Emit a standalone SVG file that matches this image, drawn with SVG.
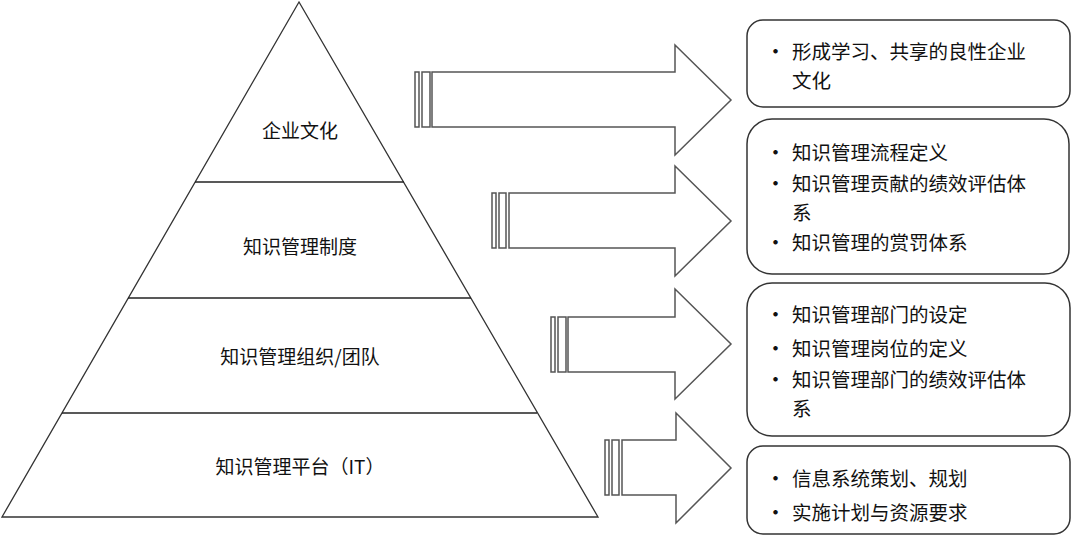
<svg xmlns="http://www.w3.org/2000/svg" width="1073" height="536" viewBox="0 0 1073 536">
<style>
.pyr{fill:#fff;stroke:#333;stroke-width:1.3}
.lvl{stroke:#222;stroke-width:1.4}
.arrow{fill:#fff;stroke:#555;stroke-width:1.5;stroke-linejoin:miter}
.box{fill:#fff;stroke:#333;stroke-width:1.5}
text{font-family:"Noto Sans CJK SC","Liberation Sans",sans-serif;font-size:19px;fill:#111}
.c{text-anchor:middle}
.b{font-size:19.5px}
.d{font-size:21px}
</style>
<rect width="1073" height="536" fill="#fff"/>
<g id="pyramid">
<polygon class="pyr" points="299,2 2,517 598,517"/>
<line class="lvl" x1="195" y1="182" x2="404" y2="182"/>
<line class="lvl" x1="128" y1="298" x2="471" y2="298"/>
<line class="lvl" x1="62" y1="413" x2="537" y2="413"/>
</g>
<g id="level1"><text class="c" x="300" y="138">企业文化</text></g>
<g id="level2"><text class="c" x="300" y="254">知识管理制度</text></g>
<g id="level3"><text class="c" x="300" y="364">知识管理组织/团队</text></g>
<g id="level4"><text class="c" x="300" y="474">知识管理平台（IT）</text></g>
<g id="connectors">
<g id="arrow1">
<rect class="arrow" x="415" y="72" width="4" height="55"/>
<rect class="arrow" x="422" y="72" width="8" height="55"/>
<polygon class="arrow" points="432,72 675,72 675,45 731,100 675,155 675,127 432,127"/>
</g>
<g id="arrow2">
<rect class="arrow" x="492" y="193" width="4" height="55"/>
<rect class="arrow" x="499" y="193" width="7" height="55"/>
<polygon class="arrow" points="509,193 675,193 675,166 731,221 675,276 675,248 509,248"/>
</g>
<g id="arrow3">
<rect class="arrow" x="551" y="317" width="4" height="55"/>
<rect class="arrow" x="558" y="317" width="8" height="55"/>
<polygon class="arrow" points="568,317 675,317 675,289 731,344 675,399 675,372 568,372"/>
</g>
<g id="arrow4">
<rect class="arrow" x="605" y="440" width="4" height="55"/>
<rect class="arrow" x="612" y="440" width="7" height="55"/>
<polygon class="arrow" points="622,440 676,440 676,413 731,468 676,523 676,495 622,495"/>
</g>
</g>
<g id="box1">
<rect class="box" x="747" y="20" width="323" height="87" rx="16"/>
<text class="d" x="765" y="59">•</text>
<text class="b" x="792" y="59">形成学习、共享的良性企业</text>
<text class="b" x="792" y="88">文化</text>
</g>
<g id="box2">
<rect class="box" x="747" y="119" width="322" height="155" rx="25"/>
<text class="d" x="765" y="160">•</text>
<text class="b" x="792" y="160">知识管理流程定义</text>
<text class="d" x="765" y="191">•</text>
<text class="b" x="792" y="191">知识管理贡献的绩效评估体</text>
<text class="b" x="792" y="220">系</text>
<text class="d" x="765" y="250">•</text>
<text class="b" x="792" y="250">知识管理的赏罚体系</text>
</g>
<g id="box3">
<rect class="box" x="747" y="283" width="323" height="153" rx="25"/>
<text class="d" x="765" y="322">•</text>
<text class="b" x="792" y="322">知识管理部门的设定</text>
<text class="d" x="765" y="356">•</text>
<text class="b" x="792" y="356">知识管理岗位的定义</text>
<text class="d" x="765" y="387">•</text>
<text class="b" x="792" y="387">知识管理部门的绩效评估体</text>
<text class="b" x="792" y="416">系</text>
</g>
<g id="box4">
<rect class="box" x="747" y="446" width="323" height="88" rx="16"/>
<text class="d" x="765" y="486">•</text>
<text class="b" x="792" y="486">信息系统策划、规划</text>
<text class="d" x="765" y="520">•</text>
<text class="b" x="792" y="520">实施计划与资源要求</text>
</g>
</svg>
